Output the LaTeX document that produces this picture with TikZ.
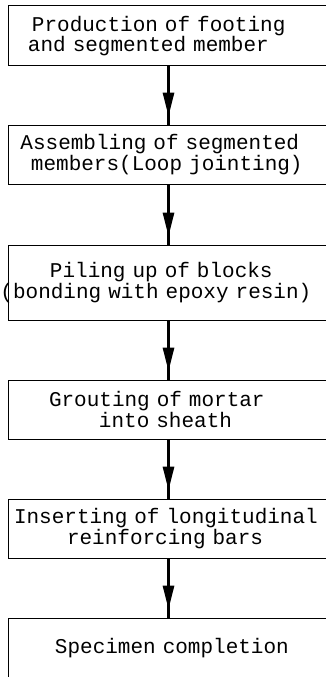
\documentclass[tikz,border=0pt]{standalone}
\usepackage{fontspec}
\newfontfamily\boxfont{Liberation Mono}
\usetikzlibrary{arrows.meta,decorations.markings}
\tikzset{
  stepbox/.style={draw=black, line width=1pt, minimum width=321pt, text width=321pt,
    inner xsep=0pt, inner ysep=0pt, align=left,
    font=\boxfont\fontsize{21}{17.5}\selectfont},
  conn/.style={line width=3pt, draw=black,
    decoration={markings, mark=at position -8pt with {\arrow{Triangle[width=11pt,length=24pt]}}},
    postaction=decorate}
}
\begin{document}
\begin{tikzpicture}[x=1pt,y=-1pt]
\useasboundingbox (0,0) rectangle (326,677);
\node[stepbox, minimum height=60pt] (b1) at (168.5,36)
  {\hspace*{24pt}Production of footing\\\hspace*{20pt}and segmented member};
\node[stepbox, minimum height=59pt] (b2) at (168.5,154.5)
  {\hspace*{12.5pt}Assembling of segmented\\\hspace*{23pt}members(Loop jointing)};
\node[stepbox, minimum height=75pt] (b3) at (168.5,282.5)
  {\hspace*{42pt}Piling up of blocks\\\hspace*{-7.5pt}(bonding with epoxy resin)};
\node[stepbox, minimum height=59pt] (b4) at (168.5,409.5)
  {\hspace*{41pt}Grouting of mortar\\\hspace*{91pt}into sheath};
\node[stepbox, minimum height=59pt] (b5) at (168.5,528.5)
  {\hspace*{6pt}Inserting of longitudinal\\\hspace*{59pt}reinforcing bars};
\node[stepbox, minimum height=60pt] (b6) at (168.5,648)
  {\hspace*{47pt}Specimen completion};
\draw[conn] (b1.south) -- (b2.north);
\draw[conn] (b2.south) -- (b3.north);
\draw[conn] (b3.south) -- (b4.north);
\draw[conn] (b4.south) -- (b5.north);
\draw[conn] (b5.south) -- (b6.north);
\end{tikzpicture}
\end{document}
